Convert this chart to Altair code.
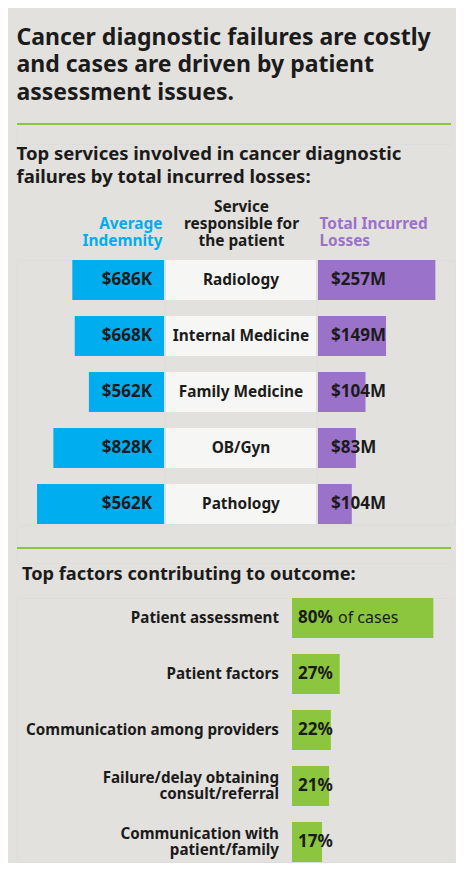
import altair as alt
import pandas as pd

# ---------------- data ----------------
title_lines = ["Cancer diagnostic failures are costly",
               "and cases are driven by patient",
               "assessment issues."]
services_title = ["Top services involved in cancer diagnostic",
                  "failures by total incurred losses:"]
factors_title = "Top factors contributing to outcome:"

header_left = ["Average", "Indemnity"]
header_center = ["Service", "responsible for", "the patient"]
header_right = ["Total Incurred", "Losses"]

services = ["Radiology", "Internal Medicine", "Family Medicine", "OB/Gyn", "Pathology"]
indemnity_labels = ["$686K", "$668K", "$562K", "$828K", "$562K"]
indemnity_bar_k = [686, 668, 562, 828, 950]      # bar lengths as drawn
losses_labels = ["$257M", "$149M", "$104M", "$83M", "$104M"]
losses_bar_m = [257, 149, 104, 83, 74]           # bar lengths as drawn

factors = ["Patient assessment", "Patient factors", "Communication among providers",
           "Failure/delay obtaining\nconsult/referral", "Communication with\npatient/family"]
factor_pct = [80, 27, 22, 21, 17]
factor_labels = ["80%", "27%", "22%", "21%", "17%"]
factor_suffix = ["of cases", "", "", "", ""]

# ---------------- style ----------------
BG = "#E3E1DD"
BLUE = "#00AEEF"
PURPLE = "#9B72C9"
GREEN = "#8CC63F"
BAND = "#F6F6F4"
INK = "#1B1B1B"
FONT = "Noto Sans"

sdf = pd.DataFrame({"service": services, "ind": indemnity_bar_k, "ind_label": indemnity_labels,
                    "loss": losses_bar_m, "loss_label": losses_labels})
fdf = pd.DataFrame({"factor": factors, "pct": factor_pct, "pct_label": factor_labels,
                    "suffix": factor_suffix})

row_scale = alt.Scale(paddingInner=2 / 7, paddingOuter=0)
ys = alt.Y("service:N", sort=services, axis=None, scale=row_scale)

def top_axis(title, color, x, align):
    return alt.Axis(orient="top", title=title, titleColor=color, labels=False, ticks=False,
                    domain=False, grid=False, titleX=x, titleAlign=align, titleBaseline="bottom",
                    titleFontSize=15.4, titleFontWeight="bold", titleLineHeight=17,
                    titlePadding=12, titleFont=FONT)

LW, CW, RW, H = 147, 150, 137, 264
NUM = 17

left_base = alt.Chart(sdf).encode(y=ys)
left = alt.layer(
    left_base.mark_bar(color=BLUE).encode(
        x=alt.X("ind:Q", scale=alt.Scale(domain=[0, 1019], reverse=True),
                axis=top_axis(header_left, BLUE, LW - 2, "right"))),
    left_base.mark_text(align="right", dx=-12, fontSize=NUM, fontWeight="bold", color=INK).encode(
        x=alt.datum(0), text="ind_label:N"),
).properties(width=LW, height=H)

center_base = alt.Chart(sdf).encode(y=ys)
center = alt.layer(
    center_base.mark_bar(color=BAND).encode(
        x=alt.XDatum(0, type="quantitative", scale=alt.Scale(domain=[0, 1]),
                     axis=top_axis(header_center, INK, CW / 2, "center")),
        x2=alt.X2Datum(1)),
    center_base.mark_text(align="center", fontSize=15.4, fontWeight="bold", color=INK).encode(
        x=alt.datum(0.5), text="service:N"),
).properties(width=CW, height=H)

right_base = alt.Chart(sdf).encode(y=ys)
right = alt.layer(
    right_base.mark_bar(color=PURPLE).encode(
        x=alt.X("loss:Q", scale=alt.Scale(domain=[0, 282]),
                axis=top_axis(header_right, PURPLE, 1, "left"))),
    right_base.mark_text(align="left", dx=13, fontSize=NUM, fontWeight="bold", color=INK).encode(
        x=alt.datum(0), text="loss_label:N"),
).properties(width=RW, height=H)

services_chart = alt.hconcat(left, center, right, spacing=0).properties(
    title=alt.TitleParams(services_title, anchor="start", fontSize=18.5, lineHeight=23,
                          fontWeight="bold", color=INK, font=FONT, offset=12))

# factors
W = 434
yf = alt.Y("factor:N", sort=factors, axis=None, scale=row_scale)
xf_scale = alt.Scale(domain=[0, 88.3], range=[275, W])
fb = alt.Chart(fdf).encode(y=yf)
label_style = dict(align="right", dx=-13, fontSize=15.2, fontWeight="bold", color=INK,
                   lineBreak="\n", lineHeight=16)
factors_chart = alt.layer(
    fb.mark_bar(color=GREEN).encode(x=alt.X("pct:Q", scale=xf_scale, axis=None)),
    fb.transform_filter("indexof(datum.factor, '\\n') < 0").mark_text(**label_style).encode(
        x=alt.datum(0), text="factor:N"),
    fb.transform_filter("indexof(datum.factor, '\\n') >= 0").mark_text(dy=-8, **label_style).encode(
        x=alt.datum(0), text="factor:N"),
    fb.mark_text(align="left", dx=6, fontSize=NUM, fontWeight="bold", color=INK).encode(
        x=alt.datum(0), text="pct_label:N"),
    fb.mark_text(align="left", dx=46, fontSize=16, fontWeight="normal", color=INK).encode(
        x=alt.datum(0), text="suffix:N"),
).properties(width=W, height=H, title=alt.TitleParams(
    factors_title, anchor="start", fontSize=18.2, fontWeight="bold", color=INK, font=FONT,
    dx=5, offset=14))

def rule_view(height, pos):
    return alt.Chart(pd.DataFrame({"k": [0]})).mark_rect(color=GREEN).encode(
        x=alt.value(0), x2=alt.value(W), y=alt.value(pos - 1), y2=alt.value(pos + 1)
    ).properties(width=W, height=height)

chart = alt.vconcat(rule_view(21, 1), services_chart, rule_view(37, 22), factors_chart,
                    spacing=0).properties(
    title=alt.TitleParams(title_lines, anchor="start", fontSize=23, lineHeight=27.5,
                          fontWeight="bold", color=INK, font=FONT, offset=18),
    background=BG,
    padding={"left": 8, "top": 18, "right": 0, "bottom": 0},
).configure_view(strokeWidth=0, fill=BG).configure(font=FONT)

chart.save("out.html", embed_options={"renderer": "svg", "actions": False})
